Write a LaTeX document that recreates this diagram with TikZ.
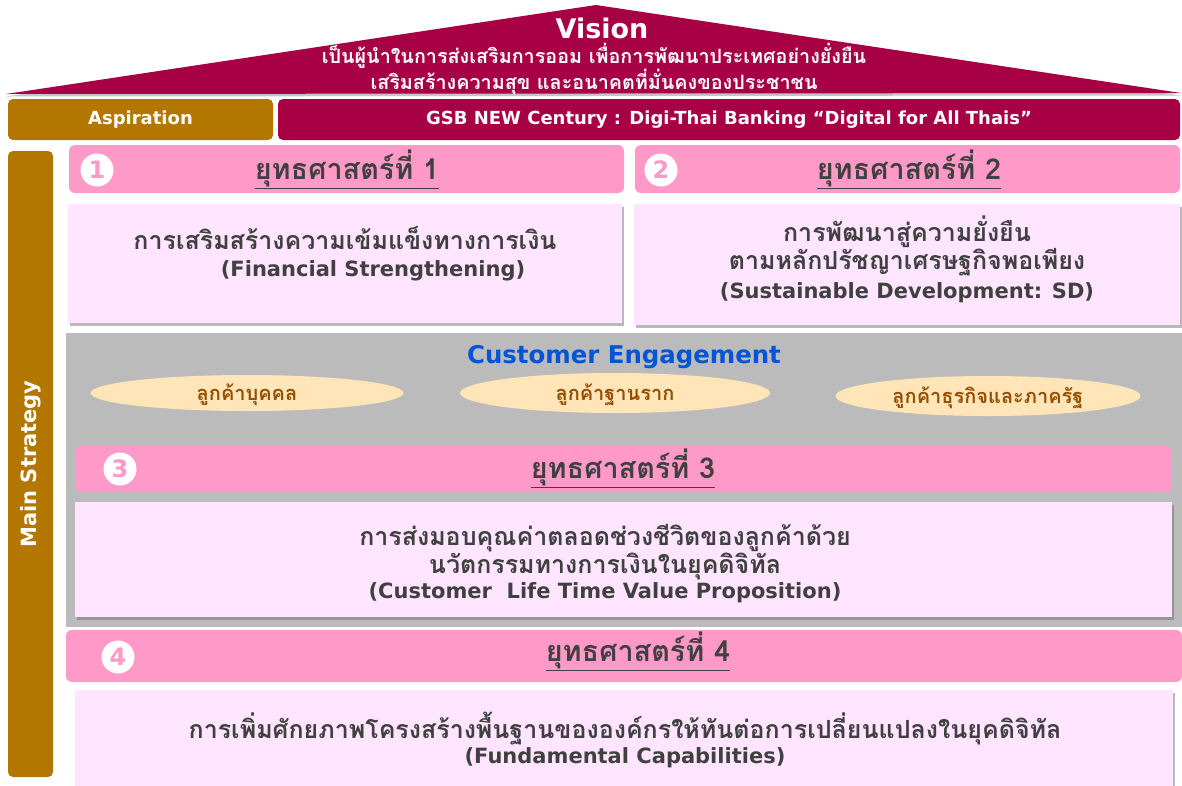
\documentclass[tikz,border=0pt]{standalone}
\usepackage{fontspec}
\setmainfont{DejaVu Sans}
\newfontfamily\thaifont[Script=Thai, Scale=1.19]{Loma}
\usepackage{tikz}
\usetikzlibrary{positioning}
\usetikzlibrary{shapes.geometric}
\usetikzlibrary{shadows}
\definecolor{gsbred}{RGB}{168,0,69}
\definecolor{gsbgold}{RGB}{179,119,0}
\definecolor{headpink}{RGB}{255,153,200}
\definecolor{bodypink}{RGB}{255,229,255}
\definecolor{panelgray}{RGB}{187,187,187}
\definecolor{engblue}{RGB}{0,85,214}
\definecolor{segfill}{RGB}{255,229,183}
\definecolor{segtext}{RGB}{150,78,0}
\definecolor{txtgray}{RGB}{64,64,64}
\tikzstyle{bar} = [rectangle, rounded corners=5pt, inner sep=0pt, text=white, font=\bfseries\fontsize{18}{20}\selectfont]
\tikzstyle{head} = [rectangle, rounded corners=6pt, fill=headpink, inner sep=0pt]
\tikzstyle{body} = [rectangle, fill=bodypink, inner sep=0pt, drop shadow={shadow xshift=2pt, shadow yshift=-2.5pt, fill=black!55}]
\tikzstyle{num} = [circle, fill=white, text=headpink, inner sep=0pt, minimum size=33pt, font=\bfseries\fontsize{24}{24}\selectfont]
\tikzstyle{title} = [text=txtgray, inner sep=0pt, font=\thaifont\bfseries\fontsize{24.2}{26}\selectfont]
\tikzstyle{txt} = [text=txtgray, align=center, inner sep=0pt, font=\bfseries\fontsize{21}{27}\selectfont]
\tikzstyle{seg} = [ellipse, fill=segfill, text=segtext, inner sep=0pt, text height=16pt, text depth=2pt, font=\thaifont\bfseries\fontsize{16.8}{18}\selectfont]

\begin{document}
\begin{tikzpicture}[x=1pt, y=-1pt]
\useasboundingbox (0,0) rectangle (1182,785);
% roof
\fill [gsbred, drop shadow={shadow xshift=0pt, shadow yshift=-2.5pt, fill=black!45}] (6,94) -- (596,5) -- (1181,93) -- cycle;
\node [text=white, font=\bfseries\fontsize{27}{27}\selectfont] (V) at (602,28) {Vision};
\node [text=white, align=center, font=\thaifont\bfseries\fontsize{16.6}{22}\selectfont] (Vt) at (594,69) {เป็นผู้นำในการส่งเสริมการออม เพื่อการพัฒนาประเทศอย่างยั่งยืน\\เสริมสร้างความสุข และอนาคตที่มั่นคงของประชาชน};
% aspiration row
\node [bar, fill=gsbgold, minimum width=265pt, minimum height=41pt] (Asp) at (140.5,119.5) {Aspiration};
\node [bar, fill=gsbred, minimum width=902pt, minimum height=41pt] (GSB) at (729,119.5) {GSB NEW Century : Digi-Thai Banking “Digital for All Thais”};
% main strategy column
\node [bar, fill=gsbgold, minimum width=45pt, minimum height=626pt] (MS) at (30.5,464) {};
\node [rotate=90, text=white, font=\bfseries\fontsize{21}{22}\selectfont] (MSt) at (MS) {Main Strategy};
% strategy 1 and 2
\node [head, minimum width=555pt, minimum height=48pt] (H1) at (346.5,169) {};
\node [head, minimum width=545pt, minimum height=48pt] (H2) at (907.5,169) {};
\node [num] (N1) at (97,170) {1};
\node [num] (N2) at (661,170) {2};
\node [title] (T1) at (347,169) {\underline{ยุทธศาสตร์ที่ 1}};
\node [title] (T2) at (909,169) {\underline{ยุทธศาสตร์ที่ 2}};
\node [body, minimum width=554pt, minimum height=119pt] (B1) at (345,263.5) {};
\node [body, minimum width=546pt, minimum height=121pt] (B2) at (907,264.5) {};
\node [txt] (B1t) at (345,254) {{\thaifont การเสริมสร้างความเข้มแข็งทางการเงิน}\\\hspace*{56pt}(Financial Strengthening)};
\node [txt, font=\bfseries\fontsize{21}{28.5}\selectfont] (B2t) at (907,259) {{\thaifont การพัฒนาสู่ความยั่งยืน}\\{\thaifont ตามหลักปรัชญาเศรษฐกิจพอเพียง}\\(Sustainable Development: SD)};
% customer engagement panel
\node [rectangle, fill=panelgray, minimum width=1116pt, minimum height=294pt, inner sep=0pt] (CE) at (624,480) {};
\node [text=engblue, font=\bfseries\fontsize{24.4}{26}\selectfont] (CEt) at (624,357) {Customer Engagement};
\node [seg, minimum width=313pt, minimum height=36pt] (E1) at (247,393) {ลูกค้าบุคคล};
\node [seg, minimum width=310pt, minimum height=40pt] (E2) at (615,393) {ลูกค้าฐานราก};
\node [seg, minimum width=305pt, minimum height=40pt] (E3) at (988,396) {ลูกค้าธุรกิจและภาครัฐ};
% strategy 3
\node [head, minimum width=1097pt, minimum height=46pt] (H3) at (623.5,469) {};
\node [num] (N3) at (120,469) {3};
\node [title] (T3) at (623,468) {\underline{ยุทธศาสตร์ที่ 3}};
\node [body, minimum width=1097pt, minimum height=115pt] (B3) at (623.5,559.5) {};
\node [txt, font=\bfseries\fontsize{21}{25}\selectfont] (B3t) at (605,564) {{\thaifont การส่งมอบคุณค่าตลอดช่วงชีวิตของลูกค้าด้วย}\\{\thaifont นวัตกรรมทางการเงินในยุคดิจิทัล}\\(Customer\ \ Life Time Value Proposition)};
% strategy 4
\node [head, minimum width=1116pt, minimum height=52pt] (H4) at (624,656) {};
\node [num] (N4) at (118,657) {4};
\node [title] (T4) at (638,651) {\underline{ยุทธศาสตร์ที่ 4}};
\node [body, minimum width=1098pt, minimum height=100pt] (B4) at (624,740) {};
\node [txt, font=\bfseries\fontsize{21}{25}\selectfont] (B4t) at (625,740) {{\thaifont การเพิ่มศักยภาพโครงสร้างพื้นฐานขององค์กรให้ทันต่อการเปลี่ยนแปลงในยุคดิจิทัล}\\(Fundamental Capabilities)};
\end{tikzpicture}
\end{document}
